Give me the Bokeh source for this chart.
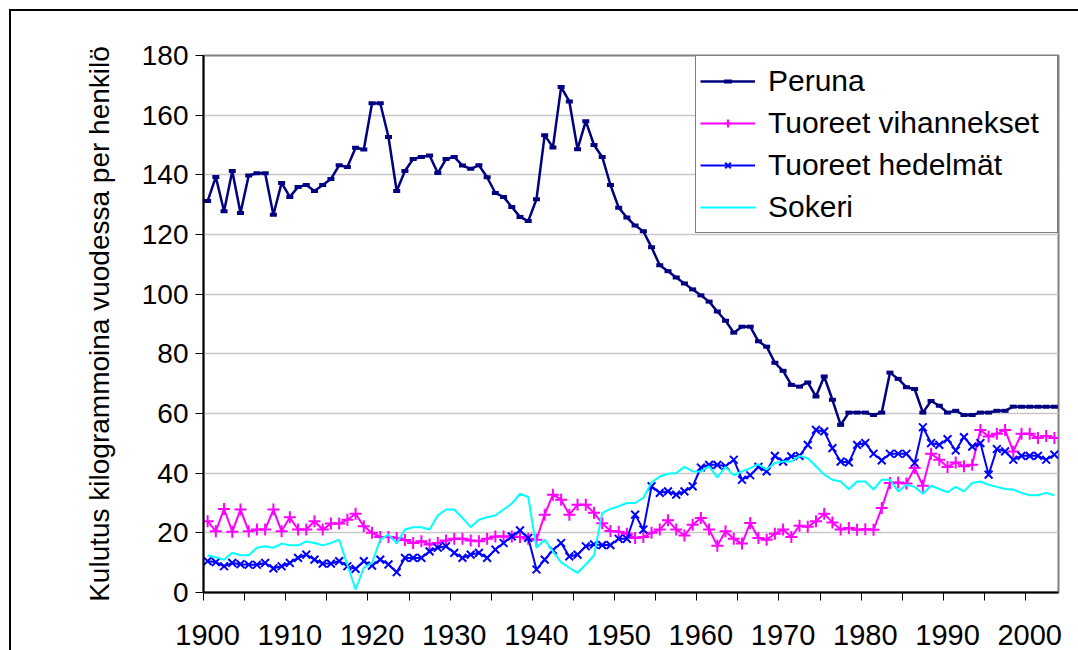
from bokeh.plotting import figure
from bokeh.models import Range1d, FixedTicker, Legend, LegendItem
from bokeh.embed import file_html
from bokeh.resources import INLINE

years = list(range(1900, 2004))

peruna = [
    131.2, 139.3, 127.8, 141.3, 127.2, 139.8, 140.5, 140.5, 126.6, 137.3,
    132.6, 135.9, 136.6, 134.6, 136.6, 138.6, 143.2, 142.6, 149.1, 148.5,
    164.0, 164.0, 152.7, 134.6, 141.3, 145.3, 146.0, 146.5, 140.6, 145.3,
    146.0, 143.1, 142.0, 143.2, 139.2, 133.9, 132.6, 129.2, 125.9, 124.5,
    131.8, 153.3, 149.2, 169.4, 164.6, 148.6, 158.0, 150.0, 146.0, 136.6,
    129.0, 125.7, 123.0, 121.1, 115.7, 109.7, 107.7, 105.6, 103.6, 101.6,
    99.6, 97.5, 94.2, 91.1, 87.1, 89.1, 89.1, 84.2, 82.4, 77.0,
    74.3, 69.6, 69.0, 70.4, 65.7, 72.4, 64.6, 56.2, 60.3, 60.3,
    60.3, 59.5, 60.3, 73.7, 71.6, 68.8, 68.2, 60.3, 64.2, 62.6,
    60.3, 60.9, 59.5, 59.5, 60.3, 60.3, 60.9, 60.9, 62.3, 62.3,
    62.3, 62.3, 62.3, 62.3,
]

vihannekset = [
    23.9, 20.5, 28.0, 20.4, 27.8, 20.5, 21.1, 21.1, 27.8, 20.5,
    25.2, 21.1, 21.1, 23.9, 21.1, 23.1, 23.1, 24.4, 26.4, 22.2,
    20.0, 18.6, 18.6, 18.3, 17.6, 16.6, 17.2, 16.1, 16.6, 17.4,
    18.0, 18.0, 17.4, 17.2, 18.0, 18.8, 18.8, 18.8, 18.6, 18.0,
    17.7, 26.1, 32.8, 31.1, 26.1, 29.4, 29.4, 26.7, 23.2, 20.6,
    20.4, 19.7, 18.3, 18.6, 20.0, 21.1, 24.2, 21.1, 19.1, 22.7,
    25.0, 21.1, 15.7, 20.5, 18.0, 16.4, 23.3, 18.3, 17.7, 19.7,
    21.1, 18.6, 22.4, 22.0, 23.9, 26.4, 23.5, 21.1, 21.6, 21.0,
    21.2, 21.0, 28.3, 36.7, 36.9, 36.5, 41.7, 35.8, 46.5, 44.5,
    42.1, 43.6, 42.3, 42.8, 54.5, 52.3, 53.2, 54.5, 47.3, 53.2,
    53.2, 51.8, 52.5, 51.8,
]

hedelmat = [
    10.5, 10.2, 8.8, 9.9, 9.5, 9.3, 9.3, 9.9, 8.1, 8.8,
    9.9, 11.6, 12.7, 11.0, 9.7, 9.7, 10.5, 8.8, 7.9, 10.5,
    9.0, 11.0, 9.4, 6.8, 11.6, 11.6, 11.6, 13.8, 15.0, 15.5,
    13.3, 11.6, 12.7, 13.3, 11.6, 14.4, 16.6, 18.8, 20.8, 18.3,
    7.7, 11.0, 14.2, 16.6, 12.1, 12.7, 15.5, 16.1, 15.9, 15.9,
    18.0, 18.0, 26.1, 21.1, 35.6, 33.4, 33.9, 32.8, 33.9, 35.6,
    41.9, 42.8, 42.8, 42.3, 44.5, 37.8, 39.3, 42.1, 40.6, 45.8,
    43.9, 45.6, 45.8, 49.5, 54.5, 54.0, 48.4, 43.9, 43.6, 49.5,
    50.1, 46.5, 44.3, 46.5, 46.5, 46.5, 43.4, 55.4, 50.1, 49.5,
    51.4, 47.6, 52.1, 48.9, 50.1, 39.5, 48.1, 47.3, 44.5, 45.8,
    45.8, 45.8, 44.5, 46.2,
]

sokeri = [
    12.5, 11.8, 11.0, 13.3, 12.5, 12.5, 15.0, 15.5, 15.0, 16.4,
    15.8, 15.8, 17.1, 16.6, 15.8, 16.6, 17.7, 9.3, 1.0, 8.3,
    9.9, 17.7, 19.4, 16.5, 21.1, 21.9, 21.9, 21.1, 25.8, 27.8,
    27.8, 25.0, 21.9, 24.4, 25.2, 25.8, 27.8, 29.8, 33.1, 32.0,
    15.0, 17.7, 13.8, 10.1, 8.3, 6.6, 9.4, 12.4, 26.7, 28.0,
    28.9, 30.0, 30.0, 31.7, 36.9, 38.9, 39.8, 40.0, 42.1, 40.6,
    40.6, 42.3, 38.6, 42.1, 39.3, 40.6, 41.7, 43.0, 41.2, 43.4,
    43.9, 43.9, 45.8, 45.0, 42.3, 39.5, 37.8, 37.2, 34.6, 37.2,
    37.2, 34.5, 37.8, 37.8, 33.9, 36.1, 35.4, 33.1, 35.8, 34.7,
    33.6, 35.4, 33.9, 36.7, 37.2, 36.1, 35.4, 34.7, 34.5, 33.4,
    32.6, 32.6, 33.4, 32.6,
]

labels = ["Peruna", "Tuoreet vihannekset", "Tuoreet hedelmät", "Sokeri"]
x_label_years = [1900, 1910, 1920, 1930, 1940, 1950, 1960, 1970, 1980, 1990, 2000]
x_boundary_ticks = [1899.5 + 5 * k for k in range(21)]
y_ticks = [0, 20, 40, 60, 80, 100, 120, 140, 160, 180]

FONT = "Liberation Sans"
W, H = 1078, 650

# outer chart border (only its top and left edges fall inside the window),
# painted as a CSS background behind a transparent canvas border area
border_css = {
    "background-color": "white",
    "background-image": "linear-gradient(black, black), linear-gradient(black, black)",
    "background-size": "2px 100%, 100% 2px",
    "background-position": "9px 9px, 9px 9px",
    "background-repeat": "no-repeat",
}

p = figure(
    width=W, height=H,
    x_range=Range1d(1899.5, 2003.5), y_range=Range1d(0, 180),
    output_backend="svg", toolbar_location=None,
    min_border_left=203, min_border_right=20, min_border_top=55, min_border_bottom=58,
    background_fill_color="white", border_fill_color=None,
    styles=border_css,
)

p.outline_line_color = "#808080"
p.outline_line_width = 2

# grid
p.xgrid.grid_line_color = None
p.ygrid.ticker = FixedTicker(ticks=y_ticks)
p.ygrid.grid_line_color = "#c8c8c8"
p.ygrid.grid_line_width = 1.5

# y axis
p.yaxis.ticker = FixedTicker(ticks=y_ticks)
p.yaxis.axis_line_color = "black"
p.yaxis.axis_line_width = 2
p.yaxis.major_tick_out = 8
p.yaxis.major_tick_in = 0
p.yaxis.minor_tick_line_color = None
p.yaxis.major_label_standoff = 7
p.yaxis.major_label_text_font = FONT
p.yaxis.major_label_text_font_size = "28px"
p.yaxis.major_label_text_color = "black"
p.yaxis.axis_label = "Kulutus kilogrammoina vuodessa per henkilö"
p.yaxis.axis_label_text_font = FONT
p.yaxis.axis_label_text_font_size = "28px"
p.yaxis.axis_label_text_font_style = "normal"
p.yaxis.axis_label_text_color = "black"
p.yaxis.axis_label_standoff = 24

# x axis
p.xaxis.ticker = FixedTicker(ticks=x_label_years, minor_ticks=x_boundary_ticks)
p.xaxis.axis_line_color = "black"
p.xaxis.axis_line_width = 2
p.xaxis.major_tick_line_color = None
p.xaxis.major_tick_out = 0
p.xaxis.major_tick_in = 0
p.xaxis.minor_tick_line_color = "black"
p.xaxis.minor_tick_out = 8
p.xaxis.minor_tick_in = 0
p.xaxis.major_label_standoff = 24
p.xaxis.major_label_text_font = FONT
p.xaxis.major_label_text_font_size = "29px"
p.xaxis.major_label_text_color = "black"

# series
r1 = p.line(years, peruna, line_color="#000080", line_width=2.5)
r1m = p.scatter(years, peruna, marker="dash", size=7, line_width=4, line_color="#000080")
r2 = p.line(years, vihannekset, line_color="#ff00ff", line_width=2)
r2m = p.scatter(years, vihannekset, marker="cross", size=12, line_width=2, line_color="#ff00ff")
r3 = p.line(years, hedelmat, line_color="#0000ff", line_width=2)
r3m = p.scatter(years, hedelmat, marker="x", size=11, line_width=2, line_color="#0000ff")
r4 = p.line(years, sokeri, line_color="#00ffff", line_width=2)

legend = Legend(
    items=[
        LegendItem(label=labels[0], renderers=[r1, r1m]),
        LegendItem(label=labels[1], renderers=[r2, r2m]),
        LegendItem(label=labels[2], renderers=[r3, r3m]),
        LegendItem(label=labels[3], renderers=[r4]),
    ],
    location="top_right",
    margin=0,
    padding=4,
    spacing=0,
    label_height=42,
    label_width=285,
    glyph_width=55,
    glyph_height=20,
    label_standoff=13,
    border_line_color="black",
    border_line_width=1,
    background_fill_color="white",
    background_fill_alpha=1,
    label_text_font=FONT,
    label_text_font_size="30px",
    label_text_color="black",
)
p.add_layout(legend)

open("out.html", "w").write(file_html(p, INLINE))
